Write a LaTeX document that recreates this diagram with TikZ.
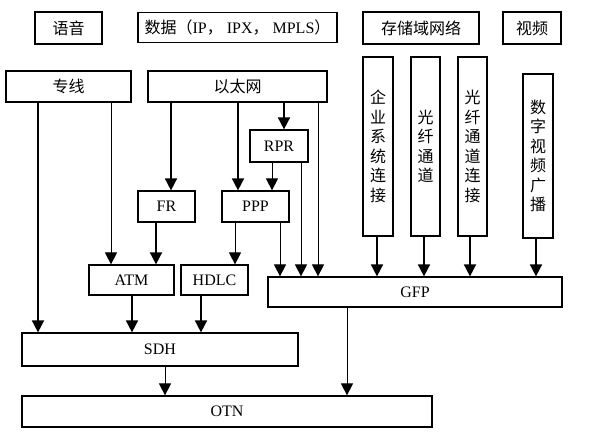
\documentclass[tikz,border=0pt]{standalone}
\usepackage{fontspec}
\setmainfont{Liberation Serif}
\newfontfamily\cjk{Noto Sans CJK SC}
\usetikzlibrary{arrows.meta,positioning,calc}

\tikzset{
  box/.style={draw, line width=1.2pt, inner sep=0pt, font=\fontsize{16}{18}\selectfont},
  topbox/.style={box, line width=1.8pt},
  vbox/.style={box, align=center, font=\fontsize{16}{19.5}\selectfont\cjk},
  fat/.style={->, line width=1.6pt},
  slim/.style={->, line width=0.9pt}
}

\begin{document}
\begin{tikzpicture}[>={Triangle[length=12pt,width=12pt]}, x=1pt, y=-1pt]

  \useasboundingbox (0,0) rectangle (590,437);

  % ---- top row: the services ----
  \node[topbox, minimum width=67pt, minimum height=32pt] (yuyin) at (68.5,28) {\cjk 语音};
  \node[box, minimum width=199pt, minimum height=30pt] (shuju) at (237.5,27.5)
    {{\cjk 数据（}IP{\cjk ，} IPX{\cjk ，} MPLS{\cjk ）}};
  \node[topbox, minimum width=116pt, minimum height=32pt] (cunchu) at (421,28) {\cjk 存储域网络};
  \node[topbox, minimum width=58pt, minimum height=32pt] (shipin) at (532,28) {\cjk 视频};

  % ---- access ----
  \node[box, minimum width=125pt, minimum height=31pt] (zhuanxian) at (68.5,86.5) {\cjk 专线};
  \node[box, minimum width=179pt, minimum height=31pt] (yitaiwang) at (237.5,86.5) {\cjk 以太网};
  \node[box, minimum width=58pt, minimum height=32pt] (rpr) at (279,146) {RPR};

  % storage and video columns
  \node[vbox, minimum width=30pt, minimum height=179pt] (qiye) at (378,146.5) {企\\业\\系\\统\\连\\接};
  \node[vbox, minimum width=29pt, minimum height=179pt] (gxtd) at (425.5,146.5) {光\\纤\\通\\道};
  \node[vbox, minimum width=29pt, minimum height=179pt] (gxlj) at (472.5,146.5) {光\\纤\\通\\道\\连\\接};
  \node[vbox, line width=1.8pt, minimum width=30pt, minimum height=164pt] (szsp) at (538,156) {数\\字\\视\\频\\广\\播};

  % ---- adaptation ----
  \node[box, minimum width=57pt, minimum height=31pt] (fr) at (166.5,206.5) {FR};
  \node[box, minimum width=67pt, minimum height=31pt] (ppp) at (255.5,206.5) {PPP};
  \node[box, minimum width=85pt, minimum height=30pt] (atm) at (131.5,280) {ATM};
  \node[box, minimum width=67pt, minimum height=30pt] (hdlc) at (214.5,280) {HDLC};
  \node[box, minimum width=294pt, minimum height=30pt] (gfp) at (415,292) {GFP};

  % ---- transport ----
  \node[box, minimum width=276pt, minimum height=33pt] (sdh) at (160,349.5) {SDH};
  \node[box, minimum width=410pt, minimum height=31pt] (otn) at (227,411.5) {OTN};

  % from the leased line
  \draw[fat]  (zhuanxian.south -| 38,0)  -- (sdh.north -| 38,0);
  \draw[slim] (zhuanxian.south -| 111,0) -- (atm.north -| 111,0);

  % from ethernet
  \draw[fat] (yitaiwang.south -| 171,0) -- (fr.north -| 171,0);
  \draw[fat] (yitaiwang.south -| 238,0) -- (ppp.north -| 238,0);
  \draw[fat] (yitaiwang.south -| 284,0) -- (rpr.north -| 284,0);
  \draw[slim] (yitaiwang.south -| 318,0) -- (gfp.north -| 318,0);
  \draw[slim] (rpr.south -| 272,0) -- (ppp.north -| 272,0);
  \draw[slim] (rpr.south -| 301,0) -- (gfp.north -| 301,0);

  \draw[fat]  (fr.south -| 156,0)  -- (atm.north -| 156,0);
  \draw[slim] (ppp.south -| 235,0) -- (hdlc.north -| 235,0);
  \draw[slim] (ppp.south -| 280,0) -- (gfp.north -| 280,0);

  % storage and video into GFP
  \draw[fat] (qiye.south -| 377,0) -- (gfp.north -| 377,0);
  \draw[fat] (gxtd.south -| 424,0) -- (gfp.north -| 424,0);
  \draw[fat] (gxlj.south -| 470,0) -- (gfp.north -| 470,0);
  \draw[fat] (szsp.south -| 536,0) -- (gfp.north -| 536,0);

  % down to SDH and OTN
  \draw[fat]  (atm.south -| 132,0)  -- (sdh.north -| 132,0);
  \draw[fat]  (hdlc.south -| 201,0) -- (sdh.north -| 201,0);
  \draw[slim] (sdh.south -| 165,0)  -- (otn.north -| 165,0);
  \draw[slim] (gfp.south -| 347,0)  -- (otn.north -| 347,0);

\end{tikzpicture}
\end{document}
